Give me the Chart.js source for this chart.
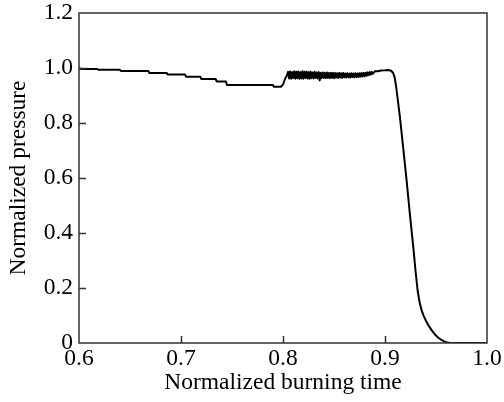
<!DOCTYPE html>
<html>
<head>
<meta charset="utf-8">
<title>Normalized pressure</title>
<script src="https://cdn.jsdelivr.net/npm/chart.js@4.4.1/dist/chart.umd.min.js"></script>
<style>
  body { margin: 0; background: #fff; }
  canvas { display: block; }
</style>
</head>
<body>
<canvas id="my-chart" width="504" height="402"></canvas>
<script>
'use strict';

// DATA
let burningTime = [
  // slow decline
  0.600, 0.603, 0.618, 0.619, 0.640, 0.641, 0.668, 0.669, 0.686, 0.687,
  0.704, 0.705, 0.719, 0.720, 0.734, 0.735, 0.744, 0.745, 0.790, 0.791,
  0.798, 0.800, 0.802, 0.804,
  // oscillating plateau
  0.805, 0.806, 0.807, 0.808, 0.809, 0.810, 0.811, 0.812, 0.813, 0.814,
  0.815, 0.816, 0.817, 0.818, 0.819, 0.820, 0.821, 0.822, 0.823, 0.824,
  0.825, 0.826, 0.827, 0.828, 0.829, 0.830, 0.831, 0.832, 0.833, 0.834,
  0.835, 0.836, 0.837, 0.838, 0.839, 0.840, 0.841, 0.842, 0.843, 0.844,
  0.845, 0.846, 0.847, 0.848, 0.849, 0.850, 0.851, 0.852, 0.853, 0.854,
  0.855, 0.856, 0.857, 0.858, 0.859, 0.860, 0.861, 0.862, 0.863, 0.864,
  0.865, 0.866, 0.867, 0.868, 0.869, 0.870, 0.871, 0.872, 0.873, 0.874,
  0.875, 0.876, 0.877, 0.878, 0.879, 0.880, 0.881, 0.882, 0.883, 0.884,
  0.885, 0.886, 0.887, 0.888,
  // tail-off
  0.890, 0.893, 0.896, 0.900, 0.903, 0.906, 0.908, 0.9095, 0.911, 0.9145,
  0.918, 0.9214, 0.9246, 0.928, 0.930, 0.932, 0.934, 0.936, 0.938, 0.940,
  0.943, 0.946, 0.949, 0.952, 0.955, 0.958, 0.961, 0.964, 1.000
];

let pressure = [
  // slow decline
  0.998, 0.996, 0.996, 0.994, 0.994, 0.989, 0.989, 0.982, 0.982, 0.976,
  0.976, 0.968, 0.968, 0.960, 0.960, 0.951, 0.951, 0.938, 0.938, 0.932,
  0.932, 0.940, 0.960, 0.975,
  // oscillating plateau
  0.986, 0.962, 0.987, 0.961, 0.985, 0.964, 0.988, 0.961, 0.986, 0.963,
  0.987, 0.961, 0.985, 0.962, 0.988, 0.961, 0.986, 0.964, 0.987, 0.962,
  0.985, 0.961, 0.987, 0.963, 0.984, 0.962, 0.986, 0.964, 0.984, 0.962,
  0.985, 0.955, 0.983, 0.963, 0.984, 0.964, 0.983, 0.963, 0.984, 0.964,
  0.982, 0.963, 0.983, 0.964, 0.982, 0.963, 0.982, 0.965, 0.981, 0.964,
  0.982, 0.965, 0.981, 0.964, 0.982, 0.966, 0.980, 0.965, 0.981, 0.966,
  0.980, 0.965, 0.981, 0.967, 0.980, 0.966, 0.981, 0.967, 0.980, 0.967,
  0.981, 0.968, 0.982, 0.969, 0.982, 0.970, 0.983, 0.972, 0.984, 0.974,
  0.985, 0.976, 0.986, 0.979,
  // tail-off
  0.988, 0.988, 0.991, 0.992, 0.993, 0.990, 0.982, 0.965, 0.930, 0.826,
  0.704, 0.583, 0.461, 0.339, 0.260, 0.190, 0.146, 0.118, 0.098, 0.082,
  0.062, 0.045, 0.031, 0.020, 0.012, 0.006, 0.002, 0.000, 0.000
];

// TICKS
let xTicks = [0.6, 0.7, 0.8, 0.9, 1.0];
let yTicks = [0, 0.2, 0.4, 0.6, 0.8, 1.0, 1.2];

// TITLES
let xTitle = 'Normalized burning time';
let yTitle = 'Normalized pressure';

let fontFamily = '"Liberation Serif", "Times New Roman", serif';
let ctx = document.getElementById('my-chart');

let points = [];
for (let i = 0; i < burningTime.length; i++) {
  points.push({ x: burningTime[i], y: pressure[i] });
}

// FRAME AND INWARD TICK MARKS
let framePlugin = {
  id: 'frame',
  afterDatasetsDraw(chart) {
    let c = chart.ctx;
    let area = chart.chartArea;
    let xs = chart.scales.x;
    let ys = chart.scales.y;
    c.save();
    c.strokeStyle = '#333';
    c.lineWidth = 1.5;
    c.strokeRect(area.left, area.top, area.right - area.left, area.bottom - area.top);
    c.beginPath();
    for (let i = 1; i < xTicks.length - 1; i++) {
      let px = Math.round(xs.getPixelForValue(xTicks[i])) + 0.5;
      c.moveTo(px, area.bottom);
      c.lineTo(px, area.bottom - 7);
    }
    for (let i = 1; i < yTicks.length - 1; i++) {
      let py = Math.round(ys.getPixelForValue(yTicks[i])) + 0.5;
      c.moveTo(area.left, py);
      c.lineTo(area.left + 7, py);
    }
    c.stroke();
    c.restore();
  }
};

let chartObj = {
  type: 'line',
  data: {
    datasets: [{
      data: points,
      borderColor: '#000',
      borderWidth: 2,
      borderJoinStyle: 'round',
      pointRadius: 0,
      tension: 0,
      fill: false
    }]
  },
  options: {
    responsive: false,
    animation: false,
    devicePixelRatio: 1,
    layout: { padding: { top: 13, right: 17, left: 0, bottom: 0 } },
    plugins: {
      legend: { display: false },
      tooltip: { enabled: false }
    },
    scales: {
      x: {
        type: 'linear',
        min: 0.6,
        max: 1.0,
        afterBuildTicks: function (scale) {
          scale.ticks = xTicks.map(v => ({ value: v }));
        },
        afterFit: function (scale) {
          scale.height = 59;
          scale.paddingLeft = 0;
          scale.paddingRight = 0;
        },
        grid: { display: false, drawTicks: false },
        border: { display: false },
        ticks: {
          color: '#000',
          padding: 2,
          font: { family: fontFamily, size: 23.5 },
          callback: v => v.toFixed(1)
        },
        title: {
          display: true,
          text: xTitle,
          color: '#000',
          font: { family: fontFamily, size: 23.5 },
          padding: { top: 0, bottom: 5 }
        }
      },
      y: {
        min: 0,
        max: 1.2,
        afterBuildTicks: function (scale) {
          scale.ticks = yTicks.map(v => ({ value: v }));
        },
        afterFit: function (scale) {
          scale.width = 79;
          scale.paddingTop = 0;
          scale.paddingBottom = 0;
        },
        grid: { display: false, drawTicks: false },
        border: { display: false },
        ticks: {
          color: '#000',
          padding: 6,
          font: { family: fontFamily, size: 23.5 },
          callback: v => (v === 0 ? '0' : v.toFixed(1))
        },
        title: {
          display: true,
          text: yTitle,
          color: '#000',
          font: { family: fontFamily, size: 23.5 },
          padding: { top: 5, bottom: 0 }
        }
      }
    }
  },
  plugins: [framePlugin]
};

new Chart(ctx, chartObj);
</script>
</body>
</html>
